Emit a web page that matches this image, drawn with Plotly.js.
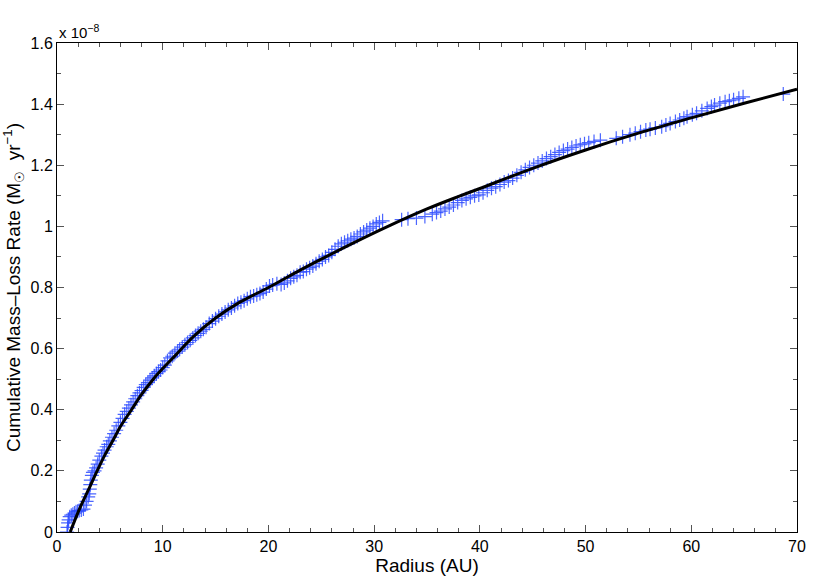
<!DOCTYPE html>
<html>
<head>
<meta charset="utf-8">
<script src="https://cdn.plot.ly/plotly-3.0.1.min.js"></script>
<style>html,body{margin:0;padding:0;background:#fff;}#chart{width:830px;height:578px;}</style>
</head>
<body>
<div id="chart"></div>
<script>
// Fitted curve (units of 1e-8 Msun/yr)
var fitRadius = [1.25, 2, 2.45, 3, 3.8, 4.5, 5.3, 6, 7.05, 8, 9.1, 10, 11.2, 12.9, 15, 17.3, 20, 23, 25, 28, 31, 35, 38, 40, 45, 50, 55, 60, 65, 70];
var fitRate = [0, 0.065, 0.1, 0.14, 0.2, 0.25, 0.3, 0.345, 0.4, 0.45, 0.5, 0.535, 0.578, 0.639, 0.70, 0.752, 0.80, 0.857, 0.893, 0.945, 0.995, 1.057, 1.098, 1.124, 1.19, 1.25, 1.305, 1.355, 1.403, 1.449];

// Measured points (+ markers)
var dataRadius = [0.95,1.0,1.05,1.1,1.2,1.35,1.5,1.65,1.8,1.95,2.1,2.3,2.5,2.65,2.8,2.95,3.05,3.1,3.15,3.2,3.3,3.4,3.55,3.7,3.85,4.0,4.2,4.35,4.5,4.7,4.85,5.0,5.2,5.4,5.6,5.8,6.0,6.2,6.4,6.6,6.8,7.0,7.2,7.4,7.6,7.8,8.0,8.2,8.4,8.6,8.8,9.0,9.2,9.4,9.6,9.8,10.0,10.2,10.45,10.7,10.9,11.15,11.4,11.6,11.85,12.1,12.35,12.6,12.85,13.1,13.35,13.6,13.85,14.1,14.4,14.7,15.0,15.3,15.6,15.9,16.2,16.5,16.8,17.1,17.4,17.7,18.0,18.3,18.6,18.9,19.2,19.5,19.8,20.1,20.4,20.8,21.2,21.5,21.8,22.1,22.4,22.7,23.0,23.3,23.6,23.9,24.2,24.5,24.8,25.1,25.4,25.7,26.0,26.3,26.6,26.9,27.2,27.5,27.8,28.1,28.4,28.7,29.0,29.3,29.6,29.9,30.2,30.5,30.8,32.6,33.2,34.0,34.8,35.5,35.9,36.3,36.7,37.1,37.5,37.9,38.3,38.7,39.1,39.5,39.9,40.3,40.7,41.1,41.5,41.9,42.3,42.7,43.1,43.5,43.9,44.3,44.7,45.1,45.5,45.9,46.3,46.7,47.1,47.5,47.9,48.3,48.7,49.1,49.5,49.9,50.3,50.8,51.4,52.9,53.5,54.2,54.7,55.2,55.7,56.1,56.6,57.2,57.6,58.0,58.5,58.9,59.3,59.6,60.1,60.5,61.0,61.5,61.9,62.2,62.7,63.2,63.6,64.0,64.5,64.9,68.7];
var dataRate = [0.0,0.015,0.03,0.04,0.05,0.055,0.058,0.062,0.066,0.068,0.07,0.072,0.075,0.088,0.1,0.115,0.125,0.14,0.155,0.17,0.185,0.195,0.2,0.21,0.222,0.235,0.248,0.258,0.268,0.279,0.287,0.298,0.31,0.322,0.333,0.347,0.359,0.372,0.385,0.395,0.405,0.416,0.426,0.436,0.446,0.455,0.463,0.473,0.482,0.489,0.497,0.504,0.511,0.519,0.525,0.53,0.538,0.546,0.56,0.57,0.575,0.585,0.592,0.598,0.605,0.613,0.62,0.627,0.635,0.643,0.65,0.657,0.663,0.67,0.682,0.69,0.698,0.706,0.713,0.72,0.727,0.733,0.74,0.748,0.752,0.757,0.763,0.77,0.772,0.776,0.78,0.785,0.795,0.805,0.808,0.812,0.81,0.815,0.822,0.83,0.835,0.84,0.85,0.852,0.86,0.865,0.87,0.878,0.886,0.892,0.9,0.905,0.915,0.925,0.935,0.943,0.948,0.953,0.958,0.962,0.967,0.975,0.982,0.988,0.994,1.0,1.008,1.013,1.018,1.022,1.025,1.027,1.032,1.04,1.045,1.05,1.057,1.063,1.07,1.078,1.085,1.09,1.095,1.1,1.103,1.11,1.118,1.125,1.13,1.137,1.145,1.15,1.158,1.167,1.177,1.185,1.193,1.2,1.207,1.214,1.222,1.228,1.235,1.242,1.248,1.253,1.258,1.263,1.267,1.27,1.274,1.278,1.282,1.288,1.293,1.3,1.305,1.31,1.315,1.318,1.322,1.326,1.332,1.337,1.343,1.348,1.354,1.359,1.365,1.37,1.378,1.386,1.392,1.397,1.403,1.408,1.411,1.414,1.419,1.424,1.433];

var xTickVals = [0, 10, 20, 30, 40, 50, 60, 70];
var xTickText = ['0', '10', '20', '30', '40', '50', '60', '70'];
var yTickVals = [0, 0.2, 0.4, 0.6, 0.8, 1, 1.2, 1.4, 1.6];
var yTickText = ['0', '0.2', '0.4', '0.6', '0.8', '1', '1.2', '1.4', '1.6'];

var FONT = 'Liberation Sans, Arial, Helvetica, sans-serif';

var traces = [
  {
    x: dataRadius, y: dataRate, type: 'scatter', mode: 'markers',
    marker: {symbol: 'cross-thin', size: 10, line: {width: 1.2, color: 'rgba(45,75,255,0.85)'}},
    hoverinfo: 'x+y'
  },
  {
    x: fitRadius, y: fitRate, type: 'scatter', mode: 'lines',
    line: {color: '#000', width: 3, shape: 'spline', smoothing: 1.0}
  }
];

var axisCommon = {
  showgrid: false, zeroline: false, showline: true, linecolor: '#000', linewidth: 1,
  mirror: 'allticks', ticks: 'inside', ticklen: 7, tickwidth: 1, tickcolor: '#555',
  tickfont: {family: FONT, size: 16, color: '#000'}
};

var layout = {
  width: 830, height: 578,
  margin: {l: 57, r: 33, t: 43, b: 46},
  paper_bgcolor: '#fff', plot_bgcolor: '#fff',
  showlegend: false,
  font: {family: FONT, color: '#000'},
  xaxis: Object.assign({}, axisCommon, {
    range: [0, 70], tickmode: 'array', tickvals: xTickVals, ticktext: xTickText,
    minor: {dtick: 2, tick0: 0, ticks: 'inside', ticklen: 4, tickcolor: '#555', tickwidth: 1, showgrid: false},
    title: {text: 'Radius (AU)', font: {family: FONT, size: 19, color: '#000'}, standoff: 1}
  }),
  yaxis: Object.assign({}, axisCommon, {
    range: [0, 1.6], tickmode: 'array', tickvals: yTickVals, ticktext: yTickText,
    minor: {dtick: 0.1, tick0: 0, ticks: 'inside', ticklen: 4, tickcolor: '#555', tickwidth: 1, showgrid: false},
    title: {text: 'Cumulative Mass\u2013Loss Rate (M<sub>\u2609</sub>  yr<sup>\u22121</sup>)', font: {family: FONT, size: 19, color: '#000'}, standoff: 4}
  }),
  annotations: [{
    xref: 'paper', yref: 'paper', x: 0, y: 1, xanchor: 'left', yanchor: 'bottom',
    text: 'x 10<sup>\u22128</sup>', showarrow: false, font: {family: FONT, size: 15, color: '#000'}
  }]
};

Plotly.newPlot('chart', traces, layout, {displayModeBar: false, staticPlot: true});
</script>
</body>
</html>
